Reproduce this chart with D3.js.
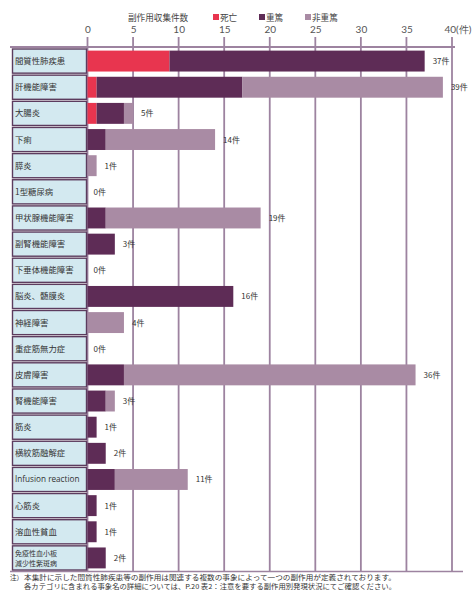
<!DOCTYPE html>
<html>
<head>
<meta charset="utf-8">
<script src="https://cdn.jsdelivr.net/npm/d3@7"></script>
<style>
  html, body { margin: 0; padding: 0; background: #fff; }
  svg { display: block; font-family: "Noto Sans CJK JP", "Noto Sans", sans-serif; }
</style>
</head>
<body>
<svg id="chart" width="475" height="590"></svg>
<script>
// Adverse reaction categories (top to bottom)
const categories = [
  "間質性肺疾患", "肝機能障害", "大腸炎", "下痢", "膵炎", "1型糖尿病",
  "甲状腺機能障害", "副腎機能障害", "下垂体機能障害", "脳炎、髄膜炎",
  "神経障害", "重症筋無力症", "皮膚障害", "腎機能障害", "筋炎",
  "横紋筋融解症", "Infusion reaction", "心筋炎", "溶血性貧血",
  "免疫性血小板減少性紫斑病"
];
// Case counts by seriousness
const deaths     = [9, 1, 1, 0, 0, 0, 0, 0, 0, 0, 0, 0, 0, 0, 0, 0, 0, 0, 0, 0];
const serious    = [28, 16, 3, 2, 0, 0, 2, 3, 0, 16, 0, 0, 4, 2, 1, 2, 3, 1, 1, 2];
const nonSerious = [0, 22, 1, 12, 1, 0, 17, 0, 0, 0, 4, 0, 32, 1, 0, 0, 8, 0, 0, 0];
const seriesNames = ["死亡", "重篤", "非重篤"];
const tickValues = [0, 5, 10, 15, 20, 25, 30, 35, 40];

const colors = { "死亡": "#e8354f", "重篤": "#5e2c56", "非重篤": "#a98ba4" };
const gridColor = "#9d83a0";

const svg = d3.select("#chart");

const rows = categories.map((c, i) => ({
  name: c, "死亡": deaths[i], "重篤": serious[i], "非重篤": nonSerious[i],
  total: deaths[i] + serious[i] + nonSerious[i]
}));

const x = d3.scaleLinear().domain([0, 40]).range([87.5, 452]);
const y = d3.scaleBand().domain(categories).range([48, 571]).padding(0);
const bw = y.bandwidth();

// Legend
const legend = svg.append("g").attr("font-size", 8.6).attr("fill", "#444");
legend.append("text").attr("x", 128).attr("y", 20.5).text("副作用収集件数");
const legendX = [213, 259, 305];
seriesNames.forEach((s, i) => {
  legend.append("rect").attr("x", legendX[i]).attr("y", 14).attr("width", 6).attr("height", 6)
    .attr("fill", colors[s]);
  legend.append("text").attr("x", legendX[i] + 7).attr("y", 20.5).text(s);
});

// Vertical gridlines
svg.append("g").selectAll("line").data(tickValues).join("line")
  .attr("x1", d => x(d)).attr("x2", d => x(d))
  .attr("y1", 37).attr("y2", 571)
  .attr("stroke", gridColor).attr("stroke-width", 1.8);

// Top axis labels
const axis = d3.axisTop(x).tickValues(tickValues).tickSize(0)
  .tickFormat(d => d === 40 ? "40(件)" : d);
const ax = svg.append("g").attr("transform", "translate(0,37)").call(axis);
ax.select(".domain").remove();
ax.selectAll("text").attr("font-size", 10).attr("fill", "#555").attr("dy", "-0.1em")
  .attr("font-family", "Lato, 'Noto Sans', sans-serif");
ax.selectAll("text").filter(d => d === 40).attr("text-anchor", "start").attr("dx", -8);

// Top and bottom rules
svg.append("line").attr("x1", 10).attr("x2", 455).attr("y1", 47).attr("y2", 47)
  .attr("stroke", gridColor).attr("stroke-width", 2);
svg.append("line").attr("x1", 10).attr("x2", 463).attr("y1", 571.5).attr("y2", 571.5)
  .attr("stroke", gridColor).attr("stroke-width", 1.5);

// Category label boxes
const boxes = svg.append("g");
boxes.selectAll("rect").data(rows).join("rect")
  .attr("x", 12.5).attr("y", d => y(d.name) + 1)
  .attr("width", 74).attr("height", bw - 2)
  .attr("fill", "#d3e9f0").attr("stroke", "#5c3c5e").attr("stroke-width", 1.4);

// Category names; the longest one wraps onto two lines
const wrapped = { "免疫性血小板減少性紫斑病": ["免疫性血小板", "減少性紫斑病"] };
rows.forEach(d => {
  const cy = y(d.name) + bw / 2;
  const lines = wrapped[d.name];
  if (lines) {
    lines.forEach((ln, k) => {
      boxes.append("text").attr("x", 15).attr("y", cy - 1.8 + k * 10.3)
        .attr("fill", "#333").attr("font-size", 7).text(ln);
    });
  } else {
    const t = boxes.append("text").attr("x", 15).attr("y", cy + 3)
      .attr("fill", "#333").attr("font-size", 8.4).text(d.name);
    if (d.name === "Infusion reaction") t.attr("font-size", 8.2).attr("font-family", "'Open Sans', sans-serif");
  }
});

// Stacked bars
const stack = d3.stack().keys(seriesNames);
const stacked = stack(rows);
const barH = bw * 0.8;
svg.append("g").selectAll("g").data(stacked).join("g")
  .attr("fill", s => colors[s.key])
  .selectAll("rect").data(s => s).join("rect")
  .attr("x", d => x(d[0]))
  .attr("y", d => y(d.data.name) + (bw - barH) / 2)
  .attr("width", d => x(d[1]) - x(d[0]))
  .attr("height", barH);

// Total case counts
svg.append("g").selectAll("text").data(rows).join("text")
  .attr("x", d => x(d.total) + (d.total === 0 ? 6 : 8))
  .attr("y", d => y(d.name) + bw / 2 + 3)
  .attr("font-size", 8).attr("fill", "#333")
  .text(d => d.total + "件");

// Footnote
const note = svg.append("g").attr("font-size", 6.6).attr("fill", "#333");
note.append("text").attr("x", 10).attr("y", 580).text("注）");
note.append("text").attr("x", 24).attr("y", 580)
  .attr("textLength", 372).attr("lengthAdjust", "spacingAndGlyphs")
  .text("本集計に示した間質性肺疾患等の副作用は関連する複数の事象によって一つの副作用が定義されております。");
note.append("text").attr("x", 24).attr("y", 588.5)
  .attr("textLength", 372).attr("lengthAdjust", "spacingAndGlyphs")
  .text("各カテゴリに含まれる事象名の詳細については、P.20 表2：注意を要する副作用別発現状況にてご確認ください。");
</script>
</body>
</html>
